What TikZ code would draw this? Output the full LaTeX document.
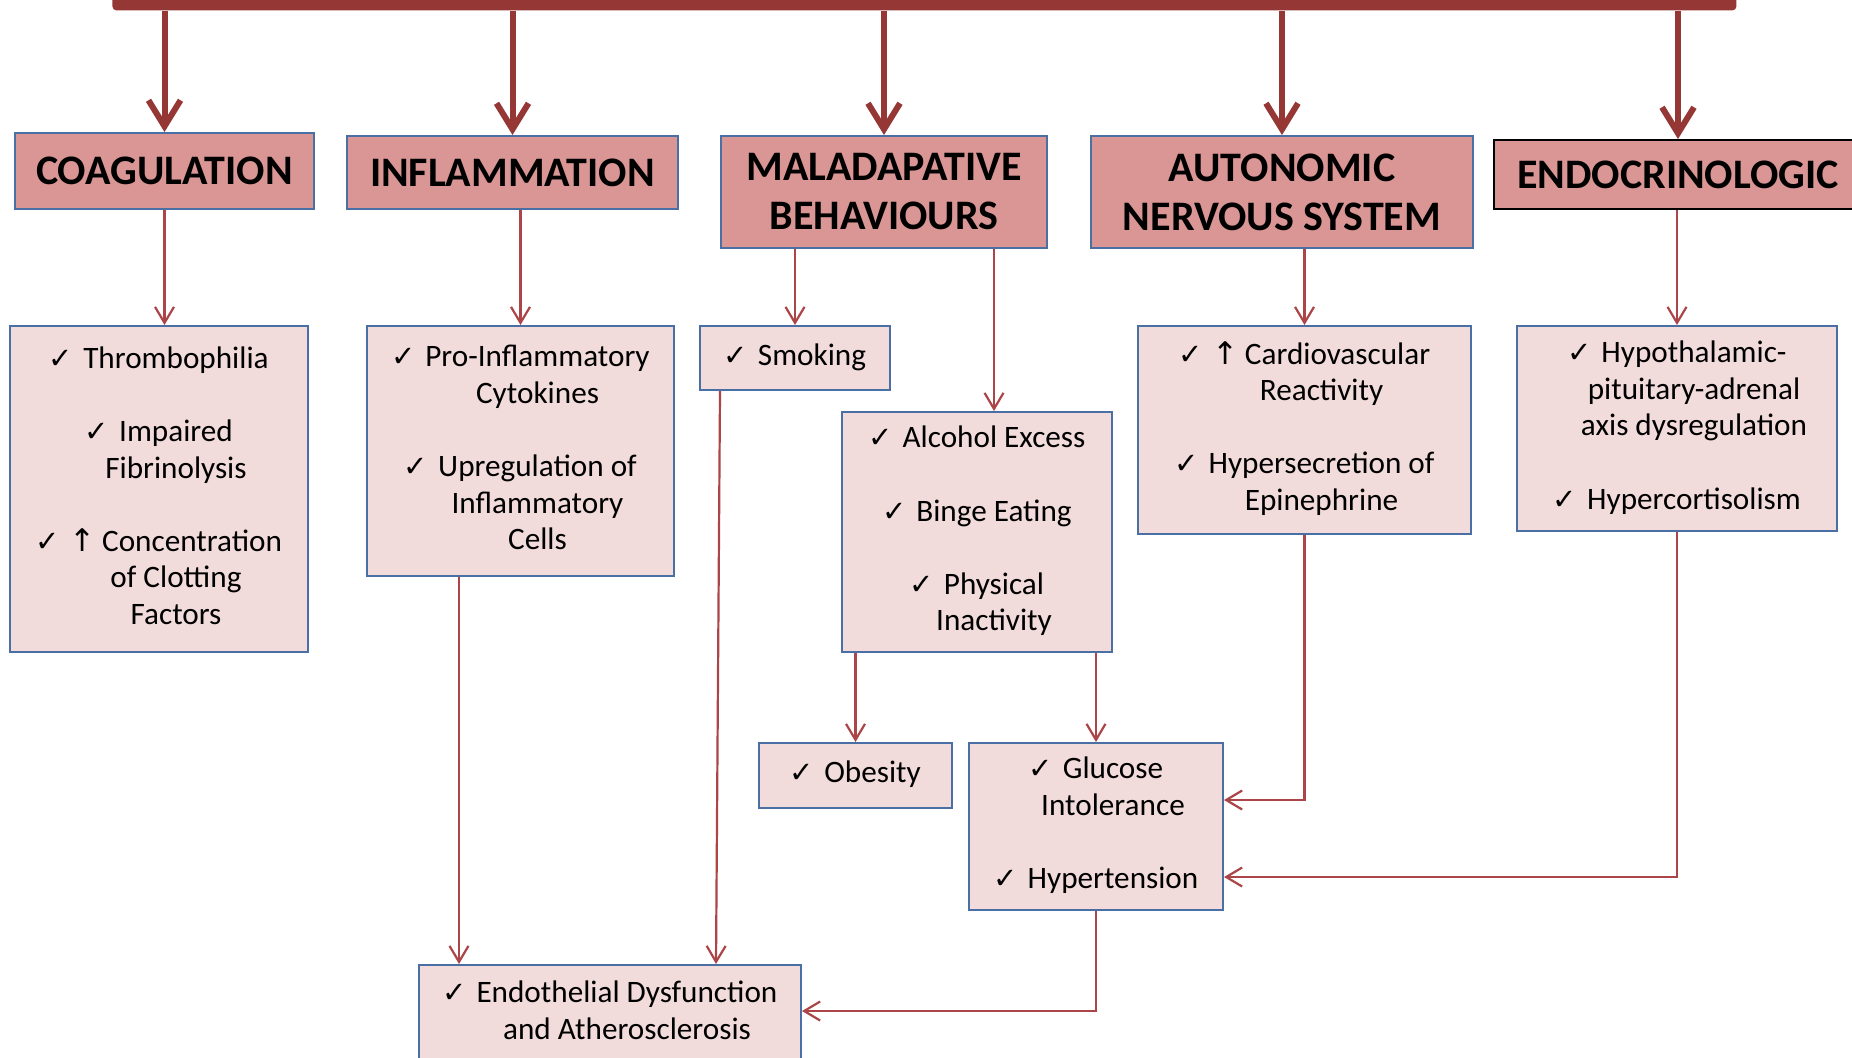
\documentclass[tikz,border=0pt]{standalone}
\usepackage{fontspec}
\setmainfont{Carlito}
\newfontfamily\symf{DejaVu Sans}
\usetikzlibrary{arrows.meta,calc}
\definecolor{barred}{HTML}{953735}
\definecolor{linkred}{HTML}{AC4548}
\definecolor{hdrfill}{HTML}{D99694}
\definecolor{listfill}{HTML}{F2DCDB}
\definecolor{boxblue}{HTML}{4A6FA5}
\newcommand{\ck}{\llap{{\symf\fontsize{14.5}{14.5}\selectfont ✓}\hspace{5pt}}}
\newcommand{\upar}{{\symf ↑}\hspace{3pt}}
\newcommand{\lst}[1]{\hspace*{17pt}\begin{tabular}{@{}c@{}}#1\end{tabular}}
\begin{document}
\begin{tikzpicture}[x=0.5pt,y=-0.5pt,
  hdr/.style={draw=boxblue, line width=1pt, fill=hdrfill, inner sep=0pt, anchor=north west,
    font=\bfseries\fontsize{21}{24.5}\selectfont, align=center},
  lbox/.style={draw=boxblue, line width=1pt, fill=listfill, inner sep=0pt, anchor=north west,
    font=\fontsize{15.6}{18.3}\selectfont},
  big/.style={draw=barred, line width=3pt, -{Straight Barb[length=13pt,width=16pt]}},
  link/.style={draw=linkred, line width=1.1pt, -{Straight Barb[length=8pt,width=9.5pt]}}]
\useasboundingbox (0,0) rectangle (1852,1057);
\clip (0,0) rectangle (1852,1057);
\fill[white] (0,0) rectangle (1852,1057);

% top bar
\node[fill=barred, rounded corners=2pt, inner sep=0pt, minimum width=812pt, minimum height=7.5pt, anchor=north west] (bar) at (112,-5) {};

% headers
\node[hdr, minimum width=149.5pt, minimum height=38pt] (coag) at (14,132) {COAGULATION};
\node[hdr, minimum width=165.5pt, minimum height=36.5pt] (infl) at (346,135) {INFLAMMATION};
\node[hdr, minimum width=163pt, minimum height=56pt] (mal) at (720,135) {MALADAPATIVE\\BEHAVIOURS};
\node[hdr, minimum width=191pt, minimum height=56pt] (ans) at (1090,135) {AUTONOMIC\\NERVOUS SYSTEM};
\node[hdr, draw=black, minimum width=184pt, minimum height=34.5pt] (endo) at (1493,139) {ENDOCRINOLOGIC};

% lists
\node[lbox, minimum width=149pt, minimum height=163pt] (coaglist) at (9,325)
  {\lst{\ck Thrombophilia\\ \\ \ck Impaired\\ Fibrinolysis\\ \\ \ck\upar Concentration\\ of Clotting\\ Factors}};
\node[lbox, minimum width=153.5pt, minimum height=125pt] (infllist) at (366,325)
  {\lst{\ck Pro-Inflammatory\\ Cytokines\\ \\ \ck Upregulation of\\ Inflammatory\\ Cells}};
\node[lbox, minimum width=95pt, minimum height=32pt] (smoking) at (699,325)
  {\lst{\ck Smoking}};
\node[lbox, minimum width=135pt, minimum height=120pt] (alc) at (841,411)
  {\lst{\ck Alcohol Excess\\ \\ \ck Binge Eating\\ \\ \ck Physical\\ Inactivity}};
\node[lbox, minimum width=166.5pt, minimum height=104pt] (anslist) at (1137,325)
  {\lst{\ck\upar Cardiovascular\\ Reactivity\\ \\ \ck Hypersecretion of\\ Epinephrine}};
\node[lbox, minimum width=160pt, minimum height=102.5pt] (endolist) at (1516,325)
  {\lst{\ck Hypothalamic-\\ pituitary-adrenal\\ axis dysregulation\\ \\ \ck Hypercortisolism}};
\node[lbox, minimum width=96.5pt, minimum height=32.5pt] (obesity) at (758,742)
  {\lst{\ck Obesity}};
\node[lbox, minimum width=127pt, minimum height=83.5pt] (glucose) at (968,742)
  {\lst{\ck Glucose\\ Intolerance\\ \\ \ck Hypertension}};
\node[lbox, minimum width=191pt, minimum height=48.5pt] (endoth) at (418,964)
  {\lst{\ck Endothelial Dysfunction\\ and Atherosclerosis}};

% thick drops
\draw[big] (bar.south -| coag.north) -- (coag.north);
\draw[big] (bar.south -| infl.north) -- (infl.north);
\draw[big] (bar.south -| mal.north) -- (mal.north);
\draw[big] (bar.south -| ans.north) -- (ans.north);
\draw[big] (bar.south -| endo.north) -- (endo.north);

% coordinates
\coordinate (alcin) at ($(alc.north west)+(153,0)$);
\coordinate (inflout) at ($(infllist.south west)+(93,0)$);
\coordinate (smkout) at ($(smoking.south west)+(21,0)$);
\coordinate (smkin) at ($(endoth.north west)+(298,0)$);
\coordinate (gin1) at ($(glucose.north east)+(0,58)$);
\coordinate (gin2) at ($(glucose.north east)+(0,135)$);
\coordinate (ein) at ($(endoth.north east)+(0,47)$);

% thin links
\draw[link] (coag.south) -- (coag.south |- coaglist.north);
\draw[link] (infllist.north |- infl.south) -- (infllist.north);
\draw[link] (smoking.north |- mal.south) -- (smoking.north);
\draw[link] (mal.south -| alcin) -- (alcin);
\draw[link] (anslist.north |- ans.south) -- (anslist.north);
\draw[link] (endolist.north |- endo.south) -- (endolist.north);
\draw[link] (inflout) -- (inflout |- endoth.north);
\draw[link] (smkout) -- (smkin);
\draw[link] (obesity.north |- alc.south) -- (obesity.north);
\draw[link] (glucose.north |- alc.south) -- (glucose.north);
\draw[link] (anslist.south) |- (gin1);
\draw[link] (endolist.south) |- (gin2);
\draw[link] (glucose.south) |- (ein);
\end{tikzpicture}
\end{document}
